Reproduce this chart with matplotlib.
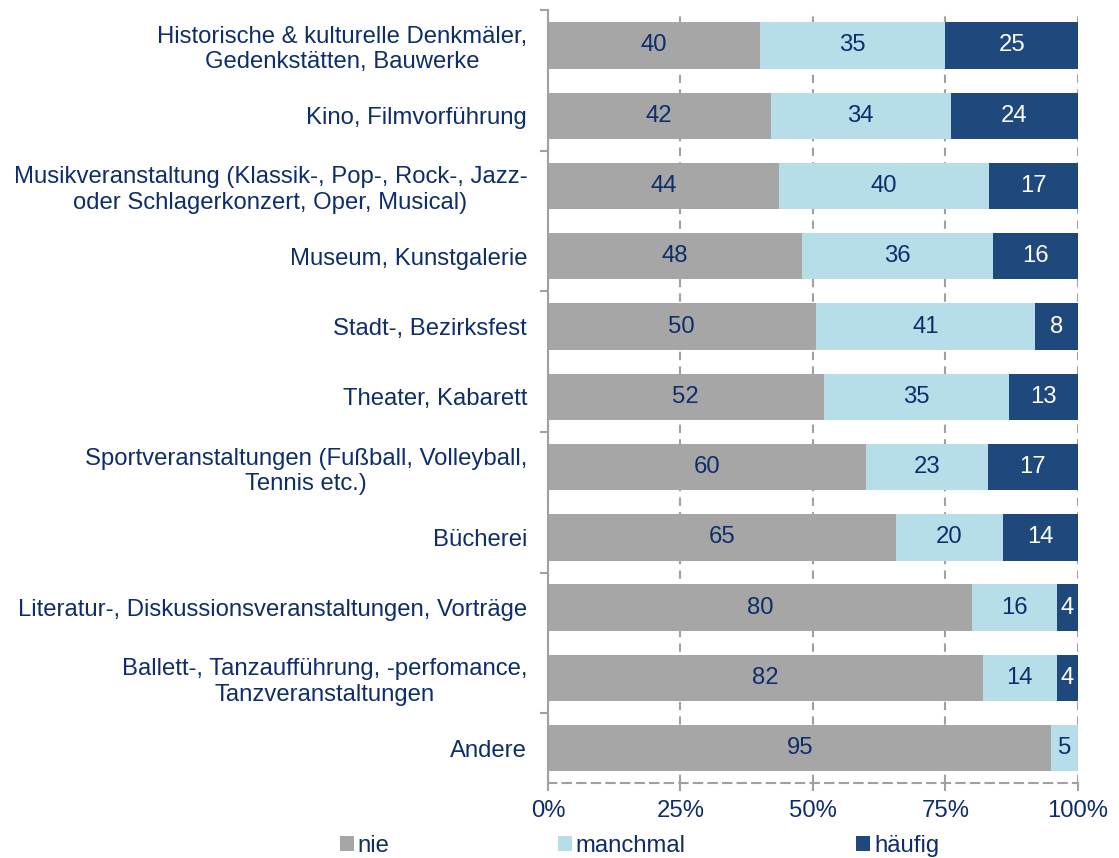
import numpy as np
import matplotlib.pyplot as plt
from matplotlib.patches import Patch

plt.rcParams['font.family'] = ['Liberation Sans', 'DejaVu Sans']

# Data (percent of respondents)
categories = [
    "Historische & kulturelle Denkmäler,\nGedenkstätten, Bauwerke",
    "Kino, Filmvorführung",
    "Musikveranstaltung (Klassik-, Pop-, Rock-, Jazz-\noder Schlagerkonzert, Oper, Musical)",
    "Museum, Kunstgalerie",
    "Stadt-, Bezirksfest",
    "Theater, Kabarett",
    "Sportveranstaltungen (Fußball, Volleyball,\nTennis etc.)",
    "Bücherei",
    "Literatur-, Diskussionsveranstaltungen, Vorträge",
    "Ballett-, Tanzaufführung, -perfomance,\nTanzveranstaltungen",
    "Andere",
]
nie = [40, 42, 44, 48, 50, 52, 60, 65, 80, 82, 95]
manchmal = [35, 34, 40, 36, 41, 35, 23, 20, 16, 14, 5]
haeufig = [25, 24, 17, 16, 8, 13, 17, 14, 4, 4, 0]

series_names = ["nie", "manchmal", "häufig"]
colors = ["#A6A6A6", "#B7DDE8", "#1F497D"]
label_colors = ["#0E2D6B", "#0E2D6B", "white"]
text_color = "#0E2D6B"
grid_color = "#A0A0A0"
fs = 17.2

data = np.array([nie, manchmal, haeufig], dtype=float)
totals = data.sum(axis=0)
shares = data / totals * 100  # 100% stacked

fig = plt.figure(figsize=(11.19, 8.58), dpi=100)
ax = fig.add_axes([0.4897, 0.087, 0.4736, 0.901])

n = len(categories)
y = np.arange(n)
left = np.zeros(n)
for i in range(3):
    ax.barh(y, shares[i], left=left, height=0.66, color=colors[i],
            edgecolor='none', zorder=2)
    for j in range(n):
        if data[i, j] > 0:
            ax.text(left[j] + shares[i, j] / 2, y[j], f"{int(data[i, j])}",
                    ha='center', va='center', fontsize=fs,
                    color=label_colors[i], zorder=3)
    left += shares[i]

ax.set_xlim(0, 100)
ax.set_ylim(n - 0.5, -0.5)
ax.set_xticks([0, 25, 50, 75, 100])
ax.set_xticklabels(["0%", "25%", "50%", "75%", "100%"])
ax.tick_params(axis='x', colors=grid_color, labelcolor=text_color,
               labelsize=fs, length=6, width=1.5, pad=6)

# category labels as y tick labels, ticks at category boundaries
ax.set_yticks(y)
ax.set_yticklabels(categories, multialignment='center')
ax.tick_params(axis='y', length=0, labelsize=fs, labelcolor=text_color, pad=15)
ax.set_yticks(np.arange(-0.5, n, 2), minor=True)
ax.tick_params(axis='y', which='minor', length=6, width=1.5, color=grid_color)

ax.xaxis.grid(True, linestyle=(0, (4, 3)), color=grid_color, linewidth=1.5, zorder=1)
ax.set_axisbelow(True)

for s in ['top', 'right']:
    ax.spines[s].set_visible(False)
ax.spines['left'].set_color(grid_color)
ax.spines['left'].set_linewidth(1.5)
ax.spines['bottom'].set_color(grid_color)
ax.spines['bottom'].set_linewidth(1.5)
ax.spines['bottom'].set_linestyle((0, (4, 3)))

# legend entries placed separately, as in the original layout
legend_x = [340 / 1119, 558 / 1119, 856 / 1119]
for name, c, lx in zip(series_names, colors, legend_x):
    fig.legend([Patch(facecolor=c, edgecolor='none')], [name],
               loc='center left', bbox_to_anchor=(lx, 1 - 846 / 858),
               frameon=False, fontsize=fs, labelcolor=text_color,
               handlelength=0.6, handleheight=0.6, handletextpad=0.15,
               borderpad=0, borderaxespad=0)

fig.savefig("out.png", dpi=100)
